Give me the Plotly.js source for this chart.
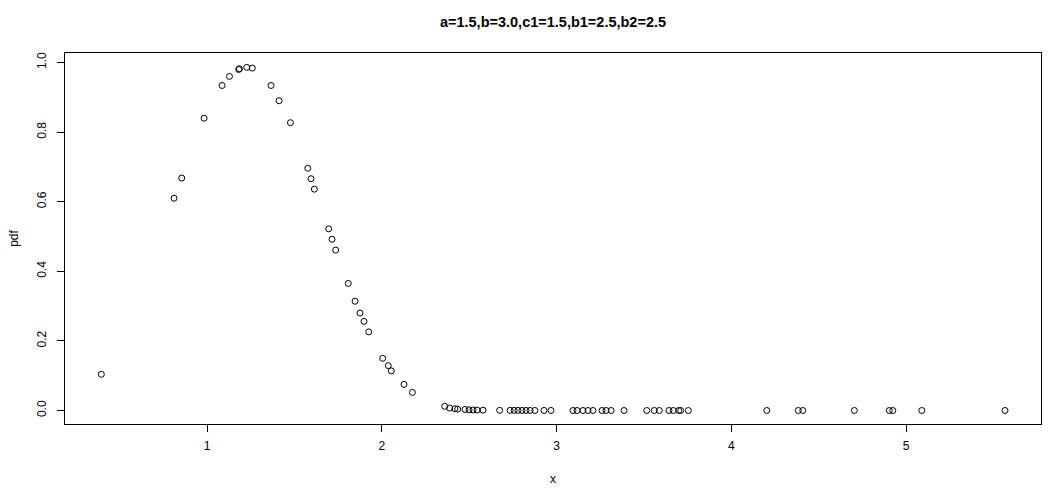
<!DOCTYPE html>
<html>
<head>
<meta charset="utf-8">
<script src="https://cdn.plot.ly/plotly-3.0.1.min.js"></script>
<style>
  html, body { margin: 0; padding: 0; background: #ffffff; }
  #chart { width: 1053px; height: 491px; }
</style>
</head>
<body>
<div id="chart"></div>
<script>
// Sample points (x, pdf)
const xValues = [
  0.395, 0.811, 0.855, 0.983, 1.086, 1.128, 1.181, 1.185, 1.227, 1.259,
  1.366, 1.412, 1.477, 1.576, 1.595, 1.614, 1.696, 1.715, 1.736, 1.808,
  1.847, 1.875, 1.898, 1.925, 2.005, 2.037, 2.054, 2.127, 2.175, 2.360,
  2.388, 2.418, 2.434, 2.476, 2.499, 2.522, 2.545, 2.579, 2.674, 2.734,
  2.757, 2.779, 2.802, 2.825, 2.848, 2.876, 2.928, 2.968, 3.094, 3.117,
  3.151, 3.180, 3.208, 3.260, 3.283, 3.312, 3.386, 3.516, 3.559, 3.588,
  3.643, 3.668, 3.699, 3.710, 3.754, 4.203, 4.383, 4.409, 4.704, 4.904,
  4.924, 5.090, 5.566
];
const pdfValues = [
  0.104, 0.610, 0.668, 0.840, 0.934, 0.960, 0.980, 0.982, 0.986, 0.984,
  0.934, 0.890, 0.827, 0.696, 0.666, 0.636, 0.522, 0.492, 0.461, 0.365,
  0.314, 0.280, 0.256, 0.226, 0.150, 0.129, 0.114, 0.075, 0.052, 0.012,
  0.007, 0.005, 0.004, 0.003, 0.002, 0.0015, 0.0012, 0.001, 0.0005, 0.0003,
  0.0003, 0.0002, 0.0002, 0.0002, 0.0001, 0.0001, 0.0001, 0.0001, 0, 0,
  0, 0, 0, 0, 0, 0, 0, 0, 0, 0,
  0, 0, 0, 0, 0, 0, 0, 0, 0, 0,
  0, 0, 0
];
const xTicks = [1, 2, 3, 4, 5];
const yTicks = [0.0, 0.2, 0.4, 0.6, 0.8, 1.0];
const chartTitle = "a=1.5,b=3.0,c1=1.5,b1=2.5,b2=2.5";
const xLabel = "x";
const yLabel = "pdf";

const FONT = "Liberation Sans, Arial, sans-serif";

const trace = {
  x: xValues,
  y: pdfValues,
  type: "scatter",
  mode: "markers",
  marker: {
    symbol: "circle-open",
    size: 6,
    color: "#000000",
    line: { width: 1, color: "#000000" }
  },
  hoverinfo: "x+y",
  showlegend: false
};

const layout = {
  width: 1053,
  height: 491,
  paper_bgcolor: "#ffffff",
  plot_bgcolor: "#ffffff",
  margin: { l: 65, r: 12, t: 53, b: 67, pad: 0 },
  font: { family: FONT, size: 12, color: "#000000" },
  title: {
    text: chartTitle,
    font: { family: FONT, size: 14.5, color: "#000000", weight: "bold" },
    x: 0.5, xref: "paper", xanchor: "center",
    y: 1 - 22 / 491, yref: "container", yanchor: "middle"
  },
  xaxis: {
    range: [0.187, 5.772],
    tickmode: "array",
    tickvals: xTicks,
    ticktext: xTicks.map(String),
    ticks: "outside",
    ticklen: 7,
    tickwidth: 1,
    tickcolor: "#000000",
    ticklabelstandoff: 4,
    showline: true,
    linecolor: "#000000",
    linewidth: 1,
    mirror: true,
    showgrid: false,
    zeroline: false,
    tickfont: { family: FONT, size: 12, color: "#000000" },
    title: { text: xLabel, font: { family: FONT, size: 12, color: "#000000" }, standoff: 22 }
  },
  yaxis: {
    range: [-0.0388, 1.0273],
    tickmode: "array",
    tickvals: yTicks,
    ticktext: yTicks.map(v => v.toFixed(1)),
    tickangle: -90,
    ticks: "outside",
    ticklen: 7,
    tickwidth: 1,
    tickcolor: "#000000",
    ticklabelstandoff: 6,
    showline: true,
    linecolor: "#000000",
    linewidth: 1,
    mirror: true,
    showgrid: false,
    zeroline: false,
    tickfont: { family: FONT, size: 12, color: "#000000" },
    title: { text: yLabel, font: { family: FONT, size: 12, color: "#000000" }, standoff: 14 }
  }
};

Plotly.newPlot("chart", [trace], layout, { staticPlot: true, displayModeBar: false });
</script>
</body>
</html>
